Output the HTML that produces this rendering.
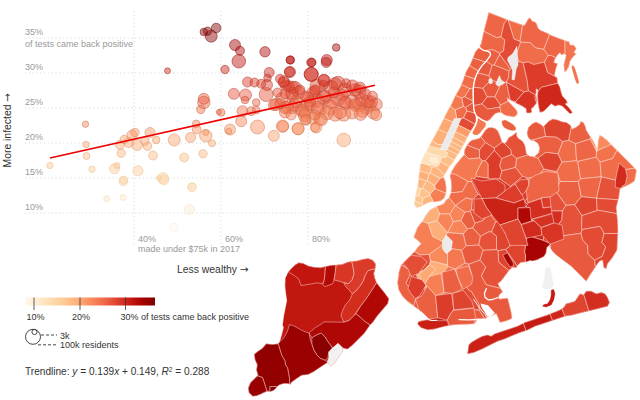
<!DOCTYPE html>
<html lang="en"><head><meta charset="utf-8"><title>NYC COVID-19 positive rate vs. income</title>
<style>html,body{margin:0;padding:0;background:#fff}body{width:640px;height:400px;overflow:hidden}</style></head>
<body>
<svg width="640" height="400" viewBox="0 0 640 400" style="display:block;font-family:'Liberation Sans','DejaVu Sans',sans-serif">
<defs><linearGradient id="ramp" x1="0" x2="1" y1="0" y2="0">
<stop offset="0%" stop-color="#fff7ec"/>
<stop offset="5%" stop-color="#fff1de"/>
<stop offset="10%" stop-color="#feebcf"/>
<stop offset="15%" stop-color="#fee4bf"/>
<stop offset="20%" stop-color="#fddcaf"/>
<stop offset="25%" stop-color="#fdd3a1"/>
<stop offset="30%" stop-color="#fdca94"/>
<stop offset="35%" stop-color="#fdbe88"/>
<stop offset="40%" stop-color="#fdb07a"/>
<stop offset="45%" stop-color="#fc9f6b"/>
<stop offset="50%" stop-color="#fa8e5d"/>
<stop offset="55%" stop-color="#f67d53"/>
<stop offset="60%" stop-color="#f16c49"/>
<stop offset="65%" stop-color="#e9593e"/>
<stop offset="70%" stop-color="#e04530"/>
<stop offset="75%" stop-color="#d53121"/>
<stop offset="80%" stop-color="#c81d13"/>
<stop offset="85%" stop-color="#b90e09"/>
<stop offset="90%" stop-color="#a70403"/>
<stop offset="95%" stop-color="#940100"/>
<stop offset="100%" stop-color="#7f0000"/>
</linearGradient></defs>
<rect width="640" height="400" fill="#fff"/>
<g stroke="#dadada" stroke-width="1" stroke-dasharray="1.2,2.6" fill="none">
<line x1="25" x2="399" y1="213.0" y2="213.0"/>
<line x1="25" x2="399" y1="178.0" y2="178.0"/>
<line x1="25" x2="399" y1="143.0" y2="143.0"/>
<line x1="25" x2="399" y1="108.0" y2="108.0"/>
<line x1="25" x2="399" y1="73.0" y2="73.0"/>
<line x1="25" x2="399" y1="38.0" y2="38.0"/>
<line x1="134.0" x2="134.0" y1="11" y2="244"/>
<line x1="221.0" x2="221.0" y1="11" y2="244"/>
<line x1="308.0" x2="308.0" y1="11" y2="244"/>
</g>
<g fill="#999" font-size="9">
<text x="25" y="209.8">10%</text>
<text x="25" y="174.8">15%</text>
<text x="25" y="139.8">20%</text>
<text x="25" y="104.8">25%</text>
<text x="25" y="69.8">30%</text>
<text x="25" y="34.8">35%</text>
<text x="25" y="47.2">of tests came back positive</text>
<text x="138.0" y="241.5">40%</text>
<text x="225.0" y="241.5">60%</text>
<text x="312.0" y="241.5">80%</text>
<text x="138.0" y="251.5">made under $75k in 2017</text>
</g>
<g fill="#333" font-size="10.4">
<text x="177" y="273">Less wealthy <tspan font-family="'DejaVu Sans',sans-serif" font-size="10.5">→</tspan></text>
<text transform="translate(11,167.5) rotate(-90)">More infected <tspan font-family="'DejaVu Sans',sans-serif" font-size="10.5">→</tspan></text>
</g>
<g stroke-width="0.9">
<circle cx="330.0" cy="107.5" r="7.5" fill="#f16c49" fill-opacity="0.46" stroke="#c0563a" stroke-opacity="0.55"/>
<circle cx="317.0" cy="86.1" r="7.0" fill="#de422d" fill-opacity="0.46" stroke="#b13424" stroke-opacity="0.55"/>
<circle cx="331.1" cy="87.5" r="7.0" fill="#e0452f" fill-opacity="0.46" stroke="#b33725" stroke-opacity="0.55"/>
<circle cx="338.1" cy="83.3" r="7.0" fill="#db3c29" fill-opacity="0.46" stroke="#af3020" stroke-opacity="0.55"/>
<circle cx="345.1" cy="90.3" r="7.0" fill="#e34a33" fill-opacity="0.46" stroke="#b53b28" stroke-opacity="0.55"/>
<circle cx="359.2" cy="91.7" r="7.0" fill="#e44d35" fill-opacity="0.46" stroke="#b63d2a" stroke-opacity="0.55"/>
<circle cx="366.2" cy="107.2" r="7.0" fill="#f06b49" fill-opacity="0.46" stroke="#c0553a" stroke-opacity="0.55"/>
<circle cx="359.2" cy="104.4" r="7.0" fill="#ee6646" fill-opacity="0.46" stroke="#be5138" stroke-opacity="0.55"/>
<circle cx="352.2" cy="101.6" r="7.0" fill="#ec6143" fill-opacity="0.46" stroke="#bc4d35" stroke-opacity="0.55"/>
<circle cx="345.1" cy="103.0" r="7.0" fill="#ed6344" fill-opacity="0.46" stroke="#bd4f36" stroke-opacity="0.55"/>
<circle cx="338.1" cy="98.7" r="7.0" fill="#ea5b3f" fill-opacity="0.46" stroke="#bb4832" stroke-opacity="0.55"/>
<circle cx="331.1" cy="101.6" r="7.0" fill="#ec6143" fill-opacity="0.46" stroke="#bc4d35" stroke-opacity="0.55"/>
<circle cx="324.0" cy="97.3" r="7.0" fill="#e9593d" fill-opacity="0.46" stroke="#ba4730" stroke-opacity="0.55"/>
<circle cx="317.0" cy="100.1" r="7.0" fill="#eb5e41" fill-opacity="0.46" stroke="#bc4b34" stroke-opacity="0.55"/>
<circle cx="318.4" cy="110.0" r="7.0" fill="#f2704c" fill-opacity="0.46" stroke="#c1593c" stroke-opacity="0.55"/>
<circle cx="326.9" cy="112.8" r="7.0" fill="#f4754e" fill-opacity="0.46" stroke="#c35d3e" stroke-opacity="0.55"/>
<circle cx="335.3" cy="114.2" r="7.0" fill="#f57750" fill-opacity="0.46" stroke="#c45f40" stroke-opacity="0.55"/>
<circle cx="343.7" cy="114.2" r="7.0" fill="#f57750" fill-opacity="0.46" stroke="#c45f40" stroke-opacity="0.55"/>
<circle cx="311.2" cy="74.5" r="7.0" fill="#d12a1c" fill-opacity="0.46" stroke="#a72116" stroke-opacity="0.55"/>
<circle cx="266.2" cy="94.5" r="7.0" fill="#e65339" fill-opacity="0.46" stroke="#b8422d" stroke-opacity="0.55"/>
<circle cx="257.5" cy="127.0" r="7.0" fill="#fa8d5d" fill-opacity="0.46" stroke="#ce744c" stroke-opacity="0.55"/>
<circle cx="311.2" cy="74.2" r="7.0" fill="#d12a1c" fill-opacity="0.46" stroke="#a72116" stroke-opacity="0.55"/>
<circle cx="238.8" cy="61.2" r="6.8" fill="#be120c" fill-opacity="0.46" stroke="#980e09" stroke-opacity="0.55"/>
<circle cx="343.8" cy="140.0" r="6.8" fill="#fca46f" fill-opacity="0.46" stroke="#d78c5e" stroke-opacity="0.55"/>
<circle cx="362.0" cy="100.1" r="6.7" fill="#eb5e41" fill-opacity="0.46" stroke="#bc4b34" stroke-opacity="0.55"/>
<circle cx="295.0" cy="87.5" r="6.2" fill="#e0452f" fill-opacity="0.46" stroke="#b33725" stroke-opacity="0.55"/>
<circle cx="292.5" cy="95.0" r="6.2" fill="#e7543a" fill-opacity="0.46" stroke="#b8432e" stroke-opacity="0.55"/>
<circle cx="203.8" cy="102.5" r="6.2" fill="#ed6344" fill-opacity="0.46" stroke="#bd4f36" stroke-opacity="0.55"/>
<circle cx="292.5" cy="107.5" r="6.2" fill="#f16c49" fill-opacity="0.46" stroke="#c0563a" stroke-opacity="0.55"/>
<circle cx="302.5" cy="111.2" r="6.2" fill="#f3724d" fill-opacity="0.46" stroke="#c25b3d" stroke-opacity="0.55"/>
<circle cx="310.0" cy="105.0" r="6.2" fill="#ef6747" fill-opacity="0.46" stroke="#bf5238" stroke-opacity="0.55"/>
<circle cx="282.5" cy="126.2" r="6.2" fill="#fa8c5c" fill-opacity="0.46" stroke="#ce734b" stroke-opacity="0.55"/>
<circle cx="205.8" cy="135.8" r="6.2" fill="#fc9d69" fill-opacity="0.46" stroke="#d58458" stroke-opacity="0.55"/>
<circle cx="335.0" cy="83.8" r="6.2" fill="#dc3d29" fill-opacity="0.46" stroke="#b03020" stroke-opacity="0.55"/>
<circle cx="292.5" cy="87.5" r="6.2" fill="#e0452f" fill-opacity="0.46" stroke="#b33725" stroke-opacity="0.55"/>
<circle cx="298.8" cy="92.5" r="6.2" fill="#e54f37" fill-opacity="0.46" stroke="#b73f2c" stroke-opacity="0.55"/>
<circle cx="355.0" cy="90.0" r="6.2" fill="#e24a33" fill-opacity="0.46" stroke="#b43b28" stroke-opacity="0.55"/>
<circle cx="285.0" cy="107.5" r="6.2" fill="#f16c49" fill-opacity="0.46" stroke="#c0563a" stroke-opacity="0.55"/>
<circle cx="295.0" cy="105.0" r="6.2" fill="#ef6747" fill-opacity="0.46" stroke="#bf5238" stroke-opacity="0.55"/>
<circle cx="317.5" cy="107.5" r="6.2" fill="#f16c49" fill-opacity="0.46" stroke="#c0563a" stroke-opacity="0.55"/>
<circle cx="340.0" cy="112.5" r="6.2" fill="#f4744e" fill-opacity="0.46" stroke="#c35c3e" stroke-opacity="0.55"/>
<circle cx="355.0" cy="105.0" r="6.2" fill="#ef6747" fill-opacity="0.46" stroke="#bf5238" stroke-opacity="0.55"/>
<circle cx="362.5" cy="111.2" r="6.2" fill="#f3724d" fill-opacity="0.46" stroke="#c25b3d" stroke-opacity="0.55"/>
<circle cx="370.0" cy="105.0" r="6.2" fill="#ef6747" fill-opacity="0.46" stroke="#bf5238" stroke-opacity="0.55"/>
<circle cx="320.0" cy="118.8" r="6.2" fill="#f77f54" fill-opacity="0.46" stroke="#c76643" stroke-opacity="0.55"/>
<circle cx="324.0" cy="80.5" r="6.2" fill="#d83625" fill-opacity="0.46" stroke="#ac2b1d" stroke-opacity="0.55"/>
<circle cx="352.2" cy="86.1" r="6.2" fill="#de422d" fill-opacity="0.46" stroke="#b13424" stroke-opacity="0.55"/>
<circle cx="371.3" cy="102.1" r="6.2" fill="#ed6243" fill-opacity="0.46" stroke="#bd4e35" stroke-opacity="0.55"/>
<circle cx="376.1" cy="104.4" r="6.2" fill="#ee6646" fill-opacity="0.46" stroke="#be5138" stroke-opacity="0.55"/>
<circle cx="373.3" cy="112.8" r="6.2" fill="#f4754e" fill-opacity="0.46" stroke="#c35d3e" stroke-opacity="0.55"/>
<circle cx="352.2" cy="112.8" r="6.2" fill="#f4754e" fill-opacity="0.46" stroke="#c35d3e" stroke-opacity="0.55"/>
<circle cx="360.6" cy="114.2" r="6.2" fill="#f57750" fill-opacity="0.46" stroke="#c45f40" stroke-opacity="0.55"/>
<circle cx="367.6" cy="101.6" r="6.2" fill="#ec6143" fill-opacity="0.46" stroke="#bc4d35" stroke-opacity="0.55"/>
<circle cx="312.8" cy="93.1" r="6.2" fill="#e55037" fill-opacity="0.46" stroke="#b7402c" stroke-opacity="0.55"/>
<circle cx="307.2" cy="104.4" r="6.2" fill="#ee6646" fill-opacity="0.46" stroke="#be5138" stroke-opacity="0.55"/>
<circle cx="301.6" cy="110.0" r="6.2" fill="#f2704c" fill-opacity="0.46" stroke="#c1593c" stroke-opacity="0.55"/>
<circle cx="295.9" cy="101.6" r="6.2" fill="#ec6143" fill-opacity="0.46" stroke="#bc4d35" stroke-opacity="0.55"/>
<circle cx="291.7" cy="93.1" r="6.2" fill="#e55037" fill-opacity="0.46" stroke="#b7402c" stroke-opacity="0.55"/>
<circle cx="281.9" cy="98.7" r="6.2" fill="#ea5b3f" fill-opacity="0.46" stroke="#bb4832" stroke-opacity="0.55"/>
<circle cx="287.5" cy="107.2" r="6.2" fill="#f06b49" fill-opacity="0.46" stroke="#c0553a" stroke-opacity="0.55"/>
<circle cx="276.2" cy="104.4" r="6.2" fill="#ee6646" fill-opacity="0.46" stroke="#be5138" stroke-opacity="0.55"/>
<circle cx="304.4" cy="115.6" r="6.2" fill="#f57a51" fill-opacity="0.46" stroke="#c46140" stroke-opacity="0.55"/>
<circle cx="312.8" cy="118.4" r="6.2" fill="#f77f54" fill-opacity="0.46" stroke="#c76643" stroke-opacity="0.55"/>
<circle cx="321.2" cy="119.8" r="6.2" fill="#f78155" fill-opacity="0.46" stroke="#c86844" stroke-opacity="0.55"/>
<circle cx="211.2" cy="36.2" r="6.0" fill="#900000" fill-opacity="0.46" stroke="#730000" stroke-opacity="0.55"/>
<circle cx="245.5" cy="95.0" r="6.0" fill="#e7543a" fill-opacity="0.46" stroke="#b8432e" stroke-opacity="0.55"/>
<circle cx="298.2" cy="128.8" r="6.0" fill="#fa905f" fill-opacity="0.46" stroke="#cf774e" stroke-opacity="0.55"/>
<circle cx="174.2" cy="140.0" r="6.0" fill="#fca46f" fill-opacity="0.46" stroke="#d78c5e" stroke-opacity="0.55"/>
<circle cx="298.0" cy="128.8" r="6.0" fill="#fa905f" fill-opacity="0.46" stroke="#cf774e" stroke-opacity="0.55"/>
<circle cx="286.1" cy="86.1" r="5.6" fill="#de422d" fill-opacity="0.46" stroke="#b13424" stroke-opacity="0.55"/>
<circle cx="137.0" cy="145.0" r="5.5" fill="#fdac77" fill-opacity="0.46" stroke="#db9567" stroke-opacity="0.55"/>
<circle cx="235.0" cy="45.0" r="5.5" fill="#a10202" fill-opacity="0.46" stroke="#800101" stroke-opacity="0.55"/>
<circle cx="290.0" cy="72.0" r="5.5" fill="#ce2519" fill-opacity="0.46" stroke="#a41d14" stroke-opacity="0.55"/>
<circle cx="267.0" cy="85.0" r="5.5" fill="#dd402b" fill-opacity="0.46" stroke="#b03322" stroke-opacity="0.55"/>
<circle cx="283.8" cy="82.5" r="5.5" fill="#da3a28" fill-opacity="0.46" stroke="#ae2e20" stroke-opacity="0.55"/>
<circle cx="288.8" cy="86.2" r="5.5" fill="#de422d" fill-opacity="0.46" stroke="#b13424" stroke-opacity="0.55"/>
<circle cx="233.8" cy="93.8" r="5.5" fill="#e65138" fill-opacity="0.46" stroke="#b8402c" stroke-opacity="0.55"/>
<circle cx="315.0" cy="91.2" r="5.5" fill="#e34c35" fill-opacity="0.46" stroke="#b53c2a" stroke-opacity="0.55"/>
<circle cx="203.8" cy="98.8" r="5.5" fill="#ea5b3f" fill-opacity="0.46" stroke="#bb4832" stroke-opacity="0.55"/>
<circle cx="242.5" cy="111.2" r="5.5" fill="#f3724d" fill-opacity="0.46" stroke="#c25b3d" stroke-opacity="0.55"/>
<circle cx="273.8" cy="105.0" r="5.5" fill="#ef6747" fill-opacity="0.46" stroke="#bf5238" stroke-opacity="0.55"/>
<circle cx="285.0" cy="112.5" r="5.5" fill="#f4744e" fill-opacity="0.46" stroke="#c35c3e" stroke-opacity="0.55"/>
<circle cx="241.2" cy="121.2" r="5.5" fill="#f88357" fill-opacity="0.46" stroke="#c96a46" stroke-opacity="0.55"/>
<circle cx="230.0" cy="129.5" r="5.5" fill="#fb9260" fill-opacity="0.46" stroke="#d0794f" stroke-opacity="0.55"/>
<circle cx="273.8" cy="135.8" r="5.5" fill="#fc9d69" fill-opacity="0.46" stroke="#d58458" stroke-opacity="0.55"/>
<circle cx="163.0" cy="178.0" r="5.5" fill="#fdd4a2" fill-opacity="0.46" stroke="#edc798" stroke-opacity="0.55"/>
<circle cx="326.8" cy="60.0" r="5.5" fill="#bc100b" fill-opacity="0.46" stroke="#960c08" stroke-opacity="0.55"/>
<circle cx="323.8" cy="80.0" r="5.5" fill="#d83524" fill-opacity="0.46" stroke="#ac2a1c" stroke-opacity="0.55"/>
<circle cx="283.8" cy="81.2" r="5.5" fill="#d93826" fill-opacity="0.46" stroke="#ad2c1e" stroke-opacity="0.55"/>
<circle cx="333.8" cy="92.5" r="5.5" fill="#e54f37" fill-opacity="0.46" stroke="#b73f2c" stroke-opacity="0.55"/>
<circle cx="365.0" cy="93.8" r="5.5" fill="#e65138" fill-opacity="0.46" stroke="#b8402c" stroke-opacity="0.55"/>
<circle cx="360.0" cy="87.5" r="5.5" fill="#e0452f" fill-opacity="0.46" stroke="#b33725" stroke-opacity="0.55"/>
<circle cx="342.5" cy="95.0" r="5.5" fill="#e7543a" fill-opacity="0.46" stroke="#b8432e" stroke-opacity="0.55"/>
<circle cx="325.0" cy="96.2" r="5.5" fill="#e8563c" fill-opacity="0.46" stroke="#b94430" stroke-opacity="0.55"/>
<circle cx="307.5" cy="97.5" r="5.5" fill="#e9593e" fill-opacity="0.46" stroke="#ba4731" stroke-opacity="0.55"/>
<circle cx="305.0" cy="112.5" r="5.5" fill="#f4744e" fill-opacity="0.46" stroke="#c35c3e" stroke-opacity="0.55"/>
<circle cx="376.2" cy="115.0" r="5.5" fill="#f57950" fill-opacity="0.46" stroke="#c46040" stroke-opacity="0.55"/>
<circle cx="283.0" cy="126.2" r="5.5" fill="#fa8c5c" fill-opacity="0.46" stroke="#ce734b" stroke-opacity="0.55"/>
<circle cx="316.2" cy="127.5" r="5.5" fill="#fa8e5d" fill-opacity="0.46" stroke="#ce754c" stroke-opacity="0.55"/>
<circle cx="345.0" cy="102.5" r="5.5" fill="#ed6344" fill-opacity="0.46" stroke="#bd4f36" stroke-opacity="0.55"/>
<circle cx="310.0" cy="101.2" r="5.5" fill="#ec6042" fill-opacity="0.46" stroke="#bc4c34" stroke-opacity="0.55"/>
<circle cx="265.0" cy="51.8" r="5.2" fill="#ae0704" fill-opacity="0.46" stroke="#8b0503" stroke-opacity="0.55"/>
<circle cx="114.5" cy="168.8" r="5.0" fill="#fdcb96" fill-opacity="0.46" stroke="#e8ba89" stroke-opacity="0.55"/>
<circle cx="128.8" cy="142.5" r="5.0" fill="#fca873" fill-opacity="0.46" stroke="#d99063" stroke-opacity="0.55"/>
<circle cx="132.0" cy="135.0" r="5.0" fill="#fc9b67" fill-opacity="0.46" stroke="#d48256" stroke-opacity="0.55"/>
<circle cx="138.0" cy="170.8" r="5.0" fill="#fdcd98" fill-opacity="0.46" stroke="#e9bd8c" stroke-opacity="0.55"/>
<circle cx="150.0" cy="132.5" r="5.0" fill="#fb9764" fill-opacity="0.46" stroke="#d27e53" stroke-opacity="0.55"/>
<circle cx="269.2" cy="72.5" r="5.0" fill="#ce2619" fill-opacity="0.46" stroke="#a41e14" stroke-opacity="0.55"/>
<circle cx="247.5" cy="82.0" r="5.0" fill="#da3927" fill-opacity="0.46" stroke="#ae2d1f" stroke-opacity="0.55"/>
<circle cx="300.0" cy="90.0" r="5.0" fill="#e24a33" fill-opacity="0.46" stroke="#b43b28" stroke-opacity="0.55"/>
<circle cx="285.0" cy="93.8" r="5.0" fill="#e65138" fill-opacity="0.46" stroke="#b8402c" stroke-opacity="0.55"/>
<circle cx="305.0" cy="96.2" r="5.0" fill="#e8563c" fill-opacity="0.46" stroke="#b94430" stroke-opacity="0.55"/>
<circle cx="280.0" cy="103.8" r="5.0" fill="#ee6545" fill-opacity="0.46" stroke="#be5037" stroke-opacity="0.55"/>
<circle cx="315.0" cy="115.0" r="5.0" fill="#f57950" fill-opacity="0.46" stroke="#c46040" stroke-opacity="0.55"/>
<circle cx="306.2" cy="120.0" r="5.0" fill="#f78155" fill-opacity="0.46" stroke="#c86844" stroke-opacity="0.55"/>
<circle cx="190.5" cy="137.5" r="5.0" fill="#fca06b" fill-opacity="0.46" stroke="#d6885a" stroke-opacity="0.55"/>
<circle cx="326.2" cy="62.5" r="5.0" fill="#c0140d" fill-opacity="0.46" stroke="#99100a" stroke-opacity="0.55"/>
<circle cx="289.5" cy="71.8" r="5.0" fill="#cd2518" fill-opacity="0.46" stroke="#a41d13" stroke-opacity="0.55"/>
<circle cx="315.0" cy="90.0" r="5.0" fill="#e24a33" fill-opacity="0.46" stroke="#b43b28" stroke-opacity="0.55"/>
<circle cx="372.5" cy="96.2" r="5.0" fill="#e8563c" fill-opacity="0.46" stroke="#b94430" stroke-opacity="0.55"/>
<circle cx="305.0" cy="120.0" r="5.0" fill="#f78155" fill-opacity="0.46" stroke="#c86844" stroke-opacity="0.55"/>
<circle cx="291.2" cy="115.0" r="5.0" fill="#f57950" fill-opacity="0.46" stroke="#c46040" stroke-opacity="0.55"/>
<circle cx="163.8" cy="180.0" r="5.0" fill="#fdd6a5" fill-opacity="0.46" stroke="#edc99b" stroke-opacity="0.55"/>
<circle cx="189.5" cy="209.5" r="5.0" fill="#feecd3" fill-opacity="0.46" stroke="#eeddc6" stroke-opacity="0.55"/>
<circle cx="216.2" cy="28.0" r="4.8" fill="#7f0000" fill-opacity="0.46" stroke="#650000" stroke-opacity="0.55"/>
<circle cx="120.0" cy="145.0" r="4.5" fill="#fdac77" fill-opacity="0.46" stroke="#db9567" stroke-opacity="0.55"/>
<circle cx="153.0" cy="155.5" r="4.5" fill="#fdbc86" fill-opacity="0.46" stroke="#e1a777" stroke-opacity="0.55"/>
<circle cx="240.0" cy="50.8" r="4.5" fill="#ac0604" fill-opacity="0.46" stroke="#890403" stroke-opacity="0.55"/>
<circle cx="254.5" cy="82.5" r="4.5" fill="#da3a28" fill-opacity="0.46" stroke="#ae2e20" stroke-opacity="0.55"/>
<circle cx="261.2" cy="83.8" r="4.5" fill="#dc3d29" fill-opacity="0.46" stroke="#b03020" stroke-opacity="0.55"/>
<circle cx="280.0" cy="78.8" r="4.5" fill="#d63322" fill-opacity="0.46" stroke="#ab281b" stroke-opacity="0.55"/>
<circle cx="277.5" cy="92.5" r="4.5" fill="#e54f37" fill-opacity="0.46" stroke="#b73f2c" stroke-opacity="0.55"/>
<circle cx="251.2" cy="111.2" r="4.5" fill="#f3724d" fill-opacity="0.46" stroke="#c25b3d" stroke-opacity="0.55"/>
<circle cx="196.8" cy="129.5" r="4.5" fill="#fb9260" fill-opacity="0.46" stroke="#d0794f" stroke-opacity="0.55"/>
<circle cx="315.0" cy="127.5" r="4.5" fill="#fa8e5d" fill-opacity="0.46" stroke="#ce754c" stroke-opacity="0.55"/>
<circle cx="184.2" cy="157.5" r="4.5" fill="#fdbf88" fill-opacity="0.46" stroke="#e2aa79" stroke-opacity="0.55"/>
<circle cx="311.2" cy="62.5" r="4.5" fill="#c0140d" fill-opacity="0.46" stroke="#99100a" stroke-opacity="0.55"/>
<circle cx="346.2" cy="83.2" r="4.5" fill="#db3c29" fill-opacity="0.46" stroke="#af3020" stroke-opacity="0.55"/>
<circle cx="323.8" cy="85.0" r="4.5" fill="#dd402b" fill-opacity="0.46" stroke="#b03322" stroke-opacity="0.55"/>
<circle cx="123.2" cy="181.2" r="4.5" fill="#fdd7a7" fill-opacity="0.46" stroke="#edca9c" stroke-opacity="0.55"/>
<circle cx="121.2" cy="153.2" r="4.2" fill="#fdb983" fill-opacity="0.46" stroke="#dfa373" stroke-opacity="0.55"/>
<circle cx="124.2" cy="139.5" r="4.2" fill="#fca36e" fill-opacity="0.46" stroke="#d78b5d" stroke-opacity="0.55"/>
<circle cx="135.0" cy="132.5" r="4.2" fill="#fb9764" fill-opacity="0.46" stroke="#d27e53" stroke-opacity="0.55"/>
<circle cx="145.0" cy="141.2" r="4.2" fill="#fca671" fill-opacity="0.46" stroke="#d88e60" stroke-opacity="0.55"/>
<circle cx="147.5" cy="146.2" r="4.2" fill="#fdae78" fill-opacity="0.46" stroke="#db9768" stroke-opacity="0.55"/>
<circle cx="207.5" cy="31.2" r="4.2" fill="#850000" fill-opacity="0.46" stroke="#6a0000" stroke-opacity="0.55"/>
<circle cx="225.0" cy="69.5" r="4.2" fill="#ca2015" fill-opacity="0.46" stroke="#a11910" stroke-opacity="0.55"/>
<circle cx="290.5" cy="60.0" r="4.2" fill="#bc100b" fill-opacity="0.46" stroke="#960c08" stroke-opacity="0.55"/>
<circle cx="311.8" cy="62.5" r="4.2" fill="#c0140d" fill-opacity="0.46" stroke="#99100a" stroke-opacity="0.55"/>
<circle cx="200.8" cy="109.5" r="4.2" fill="#f26f4b" fill-opacity="0.46" stroke="#c1583c" stroke-opacity="0.55"/>
<circle cx="203.0" cy="153.8" r="4.2" fill="#fdba83" fill-opacity="0.46" stroke="#e0a474" stroke-opacity="0.55"/>
<circle cx="192.0" cy="186.8" r="4.2" fill="#fddcaf" fill-opacity="0.46" stroke="#edcea4" stroke-opacity="0.55"/>
<circle cx="192.0" cy="187.5" r="4.2" fill="#fddcb0" fill-opacity="0.46" stroke="#edcea5" stroke-opacity="0.55"/>
<circle cx="173.8" cy="227.5" r="4.2" fill="#fff7ec" fill-opacity="0.46" stroke="#efe8dd" stroke-opacity="0.55"/>
<circle cx="123.5" cy="180.0" r="4.0" fill="#fdd6a5" fill-opacity="0.46" stroke="#edc99b" stroke-opacity="0.55"/>
<circle cx="290.0" cy="60.0" r="4.0" fill="#bc100b" fill-opacity="0.46" stroke="#960c08" stroke-opacity="0.55"/>
<circle cx="156.2" cy="140.0" r="3.8" fill="#fca46f" fill-opacity="0.46" stroke="#d78c5e" stroke-opacity="0.55"/>
<circle cx="203.8" cy="32.0" r="3.8" fill="#870000" fill-opacity="0.46" stroke="#6c0000" stroke-opacity="0.55"/>
<circle cx="267.5" cy="78.0" r="3.8" fill="#d53121" fill-opacity="0.46" stroke="#aa271a" stroke-opacity="0.55"/>
<circle cx="221.2" cy="112.5" r="3.8" fill="#f4744e" fill-opacity="0.46" stroke="#c35c3e" stroke-opacity="0.55"/>
<circle cx="256.2" cy="110.0" r="3.8" fill="#f2704c" fill-opacity="0.46" stroke="#c1593c" stroke-opacity="0.55"/>
<circle cx="256.2" cy="102.5" r="3.8" fill="#ed6344" fill-opacity="0.46" stroke="#bd4f36" stroke-opacity="0.55"/>
<circle cx="245.0" cy="100.0" r="3.8" fill="#eb5e41" fill-opacity="0.46" stroke="#bc4b34" stroke-opacity="0.55"/>
<circle cx="196.2" cy="123.8" r="3.8" fill="#f98859" fill-opacity="0.46" stroke="#cc6f48" stroke-opacity="0.55"/>
<circle cx="336.2" cy="47.5" r="3.8" fill="#a60402" fill-opacity="0.46" stroke="#840301" stroke-opacity="0.55"/>
<circle cx="86.5" cy="156.0" r="3.5" fill="#fdbd86" fill-opacity="0.46" stroke="#e1a877" stroke-opacity="0.55"/>
<circle cx="212.0" cy="143.2" r="3.5" fill="#fca974" fill-opacity="0.46" stroke="#d99164" stroke-opacity="0.55"/>
<circle cx="50.0" cy="165.5" r="3.2" fill="#fdc892" fill-opacity="0.46" stroke="#e6b685" stroke-opacity="0.55"/>
<circle cx="85.5" cy="124.2" r="3.2" fill="#f9885a" fill-opacity="0.46" stroke="#cc6f49" stroke-opacity="0.55"/>
<circle cx="86.0" cy="144.5" r="3.2" fill="#fdab76" fill-opacity="0.46" stroke="#da9466" stroke-opacity="0.55"/>
<circle cx="92.0" cy="169.2" r="3.2" fill="#fdcc97" fill-opacity="0.46" stroke="#e8bb8b" stroke-opacity="0.55"/>
<circle cx="117.0" cy="165.5" r="3.0" fill="#fdc892" fill-opacity="0.46" stroke="#e6b685" stroke-opacity="0.55"/>
<circle cx="167.5" cy="70.8" r="3.0" fill="#cc2317" fill-opacity="0.46" stroke="#a31c12" stroke-opacity="0.55"/>
<circle cx="228.8" cy="131.2" r="3.0" fill="#fb9562" fill-opacity="0.46" stroke="#d17c51" stroke-opacity="0.55"/>
<circle cx="205.8" cy="132.5" r="3.0" fill="#fb9764" fill-opacity="0.46" stroke="#d27e53" stroke-opacity="0.55"/>
<circle cx="106.8" cy="198.8" r="3.0" fill="#fee5c2" fill-opacity="0.46" stroke="#eed7b6" stroke-opacity="0.55"/>
<circle cx="123.0" cy="197.5" r="3.0" fill="#fee4c0" fill-opacity="0.46" stroke="#eed6b4" stroke-opacity="0.55"/>
<circle cx="158.8" cy="178.0" r="2.5" fill="#fdd4a2" fill-opacity="0.46" stroke="#edc798" stroke-opacity="0.55"/>
<circle cx="218.8" cy="112.0" r="2.5" fill="#f3744e" fill-opacity="0.46" stroke="#c25c3e" stroke-opacity="0.55"/>
</g>
<line x1="50" y1="158" x2="375" y2="85.3" stroke="#e00" stroke-width="1.6"/>
<rect x="25" y="297.5" width="130" height="8" fill="url(#ramp)"/>
<g stroke="#333" stroke-width="0.8">
<line x1="34" x2="34" y1="297.5" y2="310"/>
<line x1="80" x2="80" y1="297.5" y2="310"/>
<line x1="125.5" x2="125.5" y1="297.5" y2="310"/>
</g>
<g fill="#333" font-size="9">
<text x="26.5" y="319.5">10%</text>
<text x="72" y="319.5">20%</text>
<text x="120.5" y="319.5">30% of tests came back positive</text>
<text x="60" y="338.5">3k</text>
<text x="60" y="348.2">100k residents</text>
</g>
<g fill="none" stroke="#333" stroke-width="0.9">
<circle cx="33" cy="336.8" r="7.5"/><circle cx="34.5" cy="332" r="2.6"/>
<path d="M41 335H57M38 344.8H57" stroke-dasharray="3,2"/>
</g>
<text x="25" y="375" font-size="10.1" fill="#333">Trendline: <tspan font-style="italic">y</tspan> = 0.139<tspan font-style="italic">x</tspan> + 0.149, <tspan font-style="italic">R</tspan><tspan font-size="6.5" dy="-3.5">2</tspan><tspan dy="3.5"> = 0.288</tspan></text>
<g id="map" stroke="#fff" stroke-opacity="0.7" stroke-width="0.6" stroke-linejoin="round">
<path d="M288.4,272.1L285.6,278.1L285.2,285.6L286.0,293.1L287.1,300.6L285.6,308.1L284.1,315.6L282.8,325.0L283.8,327.5L281.9,335.0L280.0,341.6L278.3,343.8L272.3,344.5L266.3,343.8L262.5,348.3L258.0,351.3L254.3,354.3L255.0,359.5L257.3,364.8L256.5,370.0L258.0,375.3L254.3,379.0L250.5,382.8L248.3,388.0L249.0,392.5L252.8,396.3L256.5,395.8L260.3,394.3L264.0,392.5L267.8,391.0L270.0,391.8L273.8,390.3L277.5,386.5L279.0,385.0L283.5,383.5L288.0,383.5L290.3,384.3L291.8,382.0L297.0,378.3L301.5,375.3L308.1,374.4L313.8,371.6L319.4,367.8L325.0,364.1L327.8,362.2L330.6,365.9L334.4,363.1L338.1,357.5L341.9,352.8L342.8,348.1L347.5,349.1L352.2,345.3L358.8,338.8L364.4,333.1L370.0,325.0L372.8,322.2L377.5,315.6L383.1,309.1L387.8,303.4L388.8,298.8L384.1,292.2L379.4,286.6L376.6,282.8L374.7,278.1L373.8,273.4L375.2,268.8L375.6,264.1L372.8,260.3L368.1,258.4L362.5,259.4L356.9,260.9L351.2,261.6L347.5,262.2L341.9,264.6L336.2,265.0L330.6,265.4L325.9,266.5L320.3,267.8L313.8,267.2L308.1,265.9L303.4,263.5L298.8,262.8L295.0,265.0L291.2,268.8Z" fill="#c2170f" stroke="#c2170f" stroke-width="0.4"/>
<path d="M294.1,275.3L298.8,279.1L301.0,285.6L306.2,284.7L311.9,283.8L317.5,282.8L322.2,283.8L324.1,280.9L325.0,274.4L325.4,266.6L320.3,267.8L313.8,267.2L308.1,265.9L303.4,263.5L298.8,262.8L295.0,265.0L291.2,268.8L288.4,272.1Z" fill="#c1150e"/>
<path d="M325.0,274.4L324.1,280.9L322.8,284.7L325.0,286.6L327.8,285.6L332.5,283.8L334.0,280.0L335.3,272.5L336.1,265.0L330.6,265.4L325.9,266.5L325.4,266.6Z" fill="#b30a06"/>
<path d="M335.3,272.5L334.0,280.0L338.1,280.9L343.8,282.8L348.4,283.8L352.2,280.0L354.1,273.4L353.1,266.9L351.8,261.6L351.2,261.6L347.5,262.2L341.9,264.6L336.2,265.0L336.1,265.0Z" fill="#d83725"/>
<path d="M353.1,266.9L354.1,273.4L352.2,280.0L348.4,283.8L343.8,282.8L345.6,286.6L349.4,290.3L352.2,294.1L355.9,291.2L359.7,286.6L363.4,280.9L365.3,275.3L368.1,270.6L371.9,269.7L375.2,269.0L375.2,268.8L375.6,264.1L372.8,260.3L368.1,258.4L362.5,259.4L356.9,260.9L351.8,261.6Z" fill="#da3a27"/>
<path d="M371.9,269.7L368.1,270.6L365.3,275.3L363.4,280.9L359.7,286.6L355.9,291.2L352.2,294.1L350.3,298.8L348.4,301.6L345.6,304.4L342.8,310.0L340.9,315.6L343.8,322.2L349.4,320.3L353.1,316.6L355.9,312.8L360.6,306.2L366.2,298.8L371.9,290.3L376.6,282.8L374.7,278.1L373.8,273.4L375.2,268.8L375.3,268.6Z" fill="#d32d1e"/>
<path d="M371.9,290.3L366.2,298.8L360.6,306.2L355.9,313.8L360.6,317.5L364.4,321.2L370.0,325.0L372.8,322.2L377.5,315.6L383.1,309.1L387.8,303.4L388.8,298.8L384.1,292.2L379.4,286.6L376.6,282.8Z" fill="#b10805"/>
<path d="M324.1,321.9L320.3,324.7L315.6,327.5L311.9,330.3L309.1,333.1L311.9,337.8L316.6,335.0L321.2,333.1L325.0,336.9L327.8,341.6L330.6,345.3L332.5,348.1L338.1,343.4L342.8,348.1L347.5,349.1L352.2,345.3L358.8,338.8L364.4,333.1L370.0,325.0L364.4,321.2L360.6,317.5L355.9,313.8L353.1,316.6L349.4,320.3L343.8,322.2Z" fill="#af0705"/>
<path d="M311.9,344.4L313.8,350.0L316.6,354.7L320.3,358.4L325.0,360.3L327.8,357.5L328.8,351.9L332.5,348.1L330.6,345.3L327.8,341.6L325.0,336.9L321.2,333.1L316.6,335.0L311.9,337.8Z" fill="#8b0000"/>
<path d="M332.5,348.1L328.8,351.9L328.8,357.5L326.9,362.8L326.9,362.8L327.8,362.2L330.6,365.9L334.4,363.1L338.1,357.5L341.9,352.8L342.8,348.1L338.1,343.4Z" fill="#f1f1f1"/>
<path d="M280.0,350.0L281.9,355.6L284.7,360.3L285.6,365.0L287.5,367.8L288.4,372.5L289.4,378.1L289.7,384.1L290.3,384.3L291.8,382.0L297.0,378.3L301.5,375.3L308.1,374.4L313.8,371.6L319.4,367.8L325.0,364.1L327.8,362.2L325.0,360.3L320.3,358.4L316.6,354.7L313.8,350.0L311.9,344.4L310.0,338.8L309.1,333.1L306.2,332.2L301.6,330.3L296.9,327.5L293.1,325.6L289.4,324.7L287.5,331.2L283.8,337.8L280.0,341.6L278.3,343.8L278.2,343.8Z" fill="#9c0101"/>
<path d="M258.0,376.0L262.5,377.5L264.0,382.0L265.5,386.5L266.9,391.4L267.8,391.0L270.0,391.8L270.0,386.5L277.5,386.5L279.0,385.0L283.5,383.5L288.0,383.5L289.7,384.1L289.4,378.1L288.4,372.5L287.5,367.8L285.6,365.0L284.7,360.3L281.9,355.6L280.0,350.0L278.2,343.8L272.3,344.5L266.3,343.8L262.5,348.3L258.0,351.3L254.3,354.3L255.0,359.5L257.3,364.8L256.5,370.0L258.0,375.3L257.8,375.5Z" fill="#930000"/>
<path d="M256.5,376.8L254.3,379.0L250.5,382.8L248.3,388.0L249.0,392.5L252.8,396.3L256.5,395.8L260.3,394.3L264.0,392.5L266.9,391.4L265.5,386.5L264.0,382.0L262.5,377.5L258.0,376.0Z" fill="#990101"/>
<path d="M270.0,391.8L273.8,390.3L277.5,386.5L270.0,386.5Z" fill="#880000"/>
<path d="M488.8,12.5L485.5,25.0L483.0,35.0L481.2,43.8L479.5,46.5L480.5,48.5L483.5,50.3L487.5,51.2L490.0,52.5L490.6,55.0L488.0,58.8L485.0,62.5L482.0,65.6L479.4,69.4L476.9,73.8L475.0,78.8L473.8,83.8L473.1,90.0L473.3,100.0L473.7,108.8L475.0,113.5L477.0,116.5L478.1,117.0L482.5,119.8L486.9,121.2L490.0,119.4L492.5,116.2L495.0,113.8L498.1,112.5L501.2,112.5L503.8,114.4L506.2,115.6L510.0,116.2L513.8,116.9L516.2,115.6L517.5,113.0L516.7,110.6L514.8,108.2L512.6,105.9L510.2,103.5L507.6,100.4L507.4,97.5L508.8,99.4L512.5,101.2L517.5,103.8L522.5,106.2L526.2,108.8L526.2,111.9L527.5,113.0L530.0,113.0L531.9,111.9L531.2,108.8L533.0,107.5L535.0,105.0L536.9,102.5L536.0,95.0L536.2,88.8L538.0,90.0L537.5,96.2L538.0,102.5L538.8,107.5L540.0,112.5L543.8,111.2L547.5,107.5L551.2,103.8L555.0,106.2L558.8,105.0L562.5,106.2L566.2,110.0L570.0,113.8L572.5,112.5L568.8,107.5L565.0,103.8L567.5,103.0L566.2,100.0L562.5,96.2L561.2,92.5L560.0,87.5L557.5,82.5L557.0,77.5L554.5,76.2L555.0,72.5L556.2,67.5L557.5,63.8L553.8,62.5L555.0,58.8L557.5,55.0L560.0,52.5L561.2,55.0L563.8,53.8L566.2,55.0L565.0,60.0L563.8,65.0L564.5,71.2L566.2,71.2L568.8,66.2L570.0,61.2L572.5,57.5L576.2,53.8L573.8,52.5L576.2,48.8L573.8,45.0L570.0,45.0L568.8,41.2L567.5,41.6L560.0,38.8L552.5,35.9L546.9,33.1L540.3,30.3L537.9,27.9L536.6,23.8L534.7,21.9L531.9,20.9L530.0,17.8L528.1,19.1L526.2,22.8L524.4,25.6L518.8,23.8L505.6,19.1Z" fill="#ec6042" stroke="#ec6042" stroke-width="0.4"/>
<path d="M507.4,19.7L505.6,19.1L488.8,12.5L485.5,25.0L485.0,27.0L483.9,31.4L496.4,37.7L501.0,36.8L504.3,23.1Z" fill="#ef6646"/>
<path d="M483.0,35.0L481.2,43.8L479.5,46.5L480.5,48.5L483.5,50.3L485.3,50.7L492.5,49.6L499.7,53.3L503.7,50.9L504.8,39.8L501.0,36.8L496.4,37.7L483.9,31.4Z" fill="#ef6646"/>
<path d="M522.6,25.0L518.8,23.8L508.0,19.9L513.9,39.1L520.1,41.4Z" fill="#f16d4a"/>
<path d="M507.4,19.7L504.3,23.1L501.0,36.8L504.8,39.8L503.7,50.9L499.7,53.3L499.6,54.3L510.4,69.1L518.7,61.5L516.5,54.1L520.6,42.1L520.1,41.4L513.9,39.1L508.0,19.9Z" fill="#e34b34"/>
<path d="M530.4,42.7L535.3,47.9L543.8,49.4L549.6,34.5L546.9,33.1L540.3,30.3L538.6,28.6L537.9,27.9L536.6,23.8L534.7,21.9L531.9,20.9L530.0,17.8L528.1,19.1L526.2,22.8L524.4,25.6L522.6,25.0L520.1,41.4L520.6,42.1Z" fill="#ef6646"/>
<path d="M518.7,61.5L523.2,62.8L528.2,62.0L533.7,64.6L544.4,62.1L548.3,55.4L543.8,49.4L535.3,47.9L530.4,42.7L520.6,42.1L516.5,54.1Z" fill="#f16d4a"/>
<path d="M548.3,55.4L550.8,55.5L555.7,57.7L557.5,55.0L560.0,52.5L561.2,55.0L563.8,53.8L565.0,54.4L565.0,40.6L562.2,39.6L560.0,38.8L552.5,35.9L549.6,34.5L543.8,49.4Z" fill="#ef6646"/>
<path d="M576.2,53.8L573.8,52.5L576.2,48.8L573.8,45.0L570.0,45.0L568.8,41.2L567.5,41.6L565.0,40.6L565.0,54.4L566.2,55.0L566.1,55.4L565.0,60.0L563.8,65.0L564.5,71.2L566.2,71.2L568.8,66.2L570.0,61.2L572.5,57.5L572.9,57.1Z" fill="#f3734d"/>
<path d="M509.2,71.1L510.4,69.1L499.6,54.3L494.0,65.0Z" fill="#ec6042"/>
<path d="M499.6,54.3L499.7,53.3L492.5,49.6L485.3,50.7L487.5,51.2L490.0,52.5L490.6,55.0L488.0,58.8L486.2,61.0L492.2,65.5L494.0,65.0Z" fill="#ec6042"/>
<path d="M492.2,65.5L486.2,61.0L485.0,62.5L482.0,65.6L479.4,69.4L477.4,72.9L488.9,75.8Z" fill="#e9593e"/>
<path d="M506.3,82.2L508.6,77.8L509.2,71.1L494.0,65.0L492.2,65.5L488.9,75.8L491.2,80.1L501.0,83.6Z" fill="#e9593e"/>
<path d="M523.2,62.8L518.7,61.5L510.4,69.1L509.2,71.1L508.6,77.8L506.3,82.2L506.4,82.3L523.9,92.1L528.5,90.9L527.1,79.7L527.0,79.6Z" fill="#e65239"/>
<path d="M488.9,75.8L477.4,72.9L476.9,73.8L475.0,78.8L473.8,83.8L473.4,87.2L482.8,88.4L491.2,80.1Z" fill="#e9593e"/>
<path d="M494.9,97.0L501.0,83.6L491.2,80.1L482.8,88.4L487.1,97.0Z" fill="#e9593e"/>
<path d="M487.1,97.0L482.8,88.4L473.4,87.2L473.1,90.0L473.3,100.0L473.6,105.7L481.9,103.9Z" fill="#e34b34"/>
<path d="M500.3,105.0L508.3,101.2L507.6,100.4L507.4,97.5L508.8,99.4L510.3,100.1L506.4,82.3L506.3,82.2L501.0,83.6L494.9,97.0Z" fill="#ec6042"/>
<path d="M499.8,107.2L500.3,105.0L494.9,97.0L487.1,97.0L481.9,103.9L487.7,109.1Z" fill="#e34b34"/>
<path d="M473.6,105.7L473.7,108.8L475.0,113.5L477.0,116.5L478.1,117.0L482.5,119.8L486.9,121.2L487.0,121.2L490.0,119.4L492.5,116.2L495.0,113.8L498.1,112.5L501.1,112.5L499.8,107.2L487.7,109.1L481.9,103.9Z" fill="#e9593e"/>
<path d="M510.6,100.3L512.5,101.2L515.9,103.0L515.4,102.0ZM501.2,112.5L503.8,114.4L506.2,115.6L506.5,115.6L510.0,116.2L513.8,116.9L516.2,115.6L517.5,113.0L516.7,110.6L514.8,108.2L514.0,107.3L512.6,105.9L510.2,103.5L508.3,101.2L500.3,105.0L499.8,107.2L501.1,112.5Z" fill="#f16d4a"/>
<path d="M523.9,92.1L506.4,82.3L510.3,100.1L510.6,100.3L515.4,102.0Z" fill="#dc3c29"/>
<path d="M535.4,94.7L528.5,90.9L523.9,92.1L515.4,102.0L515.9,103.0L517.5,103.8L522.5,106.2L523.9,107.2L526.2,108.8L526.2,111.9L527.5,113.0L530.0,113.0L531.9,111.9L531.2,108.8L533.0,107.5L535.0,105.0L536.6,102.9L535.1,98.2Z" fill="#d83524"/>
<path d="M544.4,62.1L533.7,64.6L528.2,62.0L523.2,62.8L527.0,79.6L527.1,79.7L528.5,90.9L535.4,94.7L535.7,94.6L536.0,94.1L536.2,88.8L538.0,90.0L537.9,91.7L541.3,87.3L557.8,83.2L557.5,82.5L557.0,77.5L554.5,76.2L554.5,76.1L547.7,72.4Z" fill="#dc3c29"/>
<path d="M554.5,76.1L555.0,72.5L556.2,67.5L557.5,63.8L553.8,62.5L555.0,58.8L555.7,57.7L550.8,55.5L548.3,55.4L544.4,62.1L547.7,72.4Z" fill="#e9593e"/>
<path d="M557.8,83.2L541.3,87.3L537.9,91.7L537.6,95.1L537.5,96.2L538.0,102.5L538.8,107.5L540.0,112.5L543.8,111.2L547.5,107.5L550.8,104.2L551.2,103.8L555.0,106.2L556.3,105.8L558.8,105.0L562.5,106.2L566.2,110.0L570.0,113.8L572.5,112.5L568.8,107.5L565.0,103.8L567.5,103.0L566.2,100.0L562.5,96.2L562.2,95.5L561.2,92.5L560.2,88.4L560.0,87.5ZM536.0,94.1L535.7,94.6L535.4,94.7L535.1,98.2L536.6,102.9L536.9,102.5L536.0,95.0L536.0,94.6Z" fill="#cf271a"/>
<path d="M515.6,48.8L512.5,53.8L508.0,57.5L507.5,60.6L510.0,65.0L512.5,70.0L511.9,79.4L514.4,80.0L516.2,68.8L518.0,65.0L516.9,46.2Z" fill="#ebebeb"/>
<path d="M497.5,80.0L495.6,83.8L498.0,86.2L502.5,84.4L505.0,82.5L501.2,80.0L499.4,75.6Z" fill="#ebebeb"/>
<path d="M488.6,82.0L490.0,84.0L492.5,83.0L492.0,78.8L489.0,79.0Z" fill="#ebebeb"/>
<path d="M572.5,65.0L571.8,67.5L573.2,72.5L575.0,78.8L577.0,83.8L578.8,83.0L578.0,78.8L576.2,72.5L574.5,67.5Z" fill="#f3734d" stroke="#f3734d" stroke-width="0.4"/>
<path d="M501.9,121.2L502.5,125.0L504.4,127.5L508.0,129.4L512.5,130.6L515.6,130.0L515.6,127.5L513.0,124.4L508.8,121.9L505.0,120.0Z" fill="#ec6042" stroke="#ec6042" stroke-width="0.4"/>
<path d="M477.7,117.8L477.4,121.0L476.0,125.0L473.6,129.0L472.2,132.5L473.8,134.5L477.0,135.0L480.0,133.0L482.0,130.0L484.5,127.5L486.0,124.3L484.5,121.8L481.0,119.3Z" fill="#f57950" stroke="#f57950" stroke-width="0.4"/>
<path d="M479.2,47.8L477.0,49.5L475.0,52.5L472.5,58.8L470.0,65.0L466.2,71.2L464.4,76.2L463.2,80.0L460.2,87.5L455.2,96.0L451.3,104.4L447.0,112.0L443.3,119.5L439.5,127.0L436.0,133.5L432.5,140.0L429.8,145.0L427.3,150.0L424.0,155.5L422.0,160.0L420.5,165.0L419.6,171.0L418.8,177.5L418.0,185.0L416.2,192.5L415.3,198.0L414.4,203.8L416.2,207.5L421.0,206.6L425.6,203.8L430.3,201.9L435.0,201.9L440.6,201.0L444.4,198.0L446.2,192.5L446.2,186.9L445.3,181.2L443.4,176.6L446.2,171.9L449.0,167.2L452.8,162.5L455.6,157.8L458.8,153.0L460.8,150.0L463.3,145.0L466.0,140.0L468.0,136.0L470.8,131.0L474.0,126.0L476.2,121.0L475.8,116.0L475.0,113.5L473.7,108.8L473.3,100.0L473.1,90.0L473.8,83.8L475.0,78.8L476.9,73.8L479.4,69.4L482.0,65.6L485.0,62.5L488.0,58.8L490.6,55.0L490.0,52.5L487.5,51.2L483.5,50.3L480.5,48.5Z" fill="#fdb47e" stroke="#fdb47e" stroke-width="0.4"/>
<path d="M485.3,62.1L488.0,58.8L490.6,55.0L490.0,52.5L487.5,51.2L483.5,50.3L480.5,48.5L479.2,47.8L477.0,49.5L475.0,52.5L472.8,57.9Z" fill="#ec6042"/>
<path d="M472.8,57.9L472.5,58.8L470.0,65.0L469.6,65.6L478.4,71.1L479.4,69.4L482.0,65.6L485.0,62.5L485.3,62.1Z" fill="#ec6042"/>
<path d="M469.6,65.6L466.2,71.2L464.7,75.4L474.9,79.0L475.0,78.8L476.9,73.8L478.4,71.1Z" fill="#ef6646"/>
<path d="M473.3,88.1L473.8,83.8L474.9,79.0L464.7,75.4L464.4,76.2L463.2,80.0L461.4,84.6L469.9,88.8Z" fill="#f16d4a"/>
<path d="M469.9,88.8L461.4,84.6L460.2,87.5L455.5,95.6L461.7,98.0L464.6,96.8Z" fill="#f3734d"/>
<path d="M473.4,101.2L473.3,100.0L473.1,90.0L473.3,88.1L469.9,88.8L464.6,96.8Z" fill="#ec6042"/>
<path d="M461.7,98.0L463.5,106.4L465.6,107.6L473.4,102.4L473.4,101.2L464.6,96.8Z" fill="#e9593e"/>
<path d="M455.5,95.6L455.2,96.0L451.3,104.4L450.3,106.1L455.2,110.0L463.5,106.4L461.7,98.0Z" fill="#f57950"/>
<path d="M465.6,107.6L466.9,111.1L474.9,113.1L473.7,108.8L473.4,102.4Z" fill="#e9593e"/>
<path d="M463.5,117.9L466.9,111.1L465.6,107.6L463.5,106.4L455.2,110.0L456.9,119.8Z" fill="#f16d4a"/>
<path d="M456.9,119.8L455.2,110.0L450.3,106.1L447.0,112.0L443.8,118.5L455.0,122.7Z" fill="#fb9764"/>
<path d="M466.9,111.1L463.5,117.9L474.8,124.2L476.2,121.0L475.8,116.0L475.0,113.5L474.9,113.1Z" fill="#e65239"/>
<path d="M470.7,131.2L470.8,131.0L474.0,126.0L474.8,124.2L463.5,117.9L456.9,119.8L455.0,122.7L455.1,123.4Z" fill="#e34b34"/>
<path d="M455.0,122.7L443.8,118.5L443.3,119.5L439.5,127.0L438.2,129.3L449.5,134.5L452.9,130.4L455.1,123.4Z" fill="#fca973"/>
<path d="M445.9,143.3L448.1,139.8L449.5,134.9L449.5,134.5L438.2,129.3L436.0,133.5L432.5,140.0L432.2,140.6L437.3,144.4L444.4,144.6Z" fill="#fdaf79"/>
<path d="M452.9,130.4L467.2,137.6L468.0,136.0L470.7,131.2L455.1,123.4Z" fill="#fc9d69"/>
<path d="M452.9,130.4L449.5,134.5L449.5,134.9L464.3,143.2L466.0,140.0L467.2,137.6Z" fill="#fdaf79"/>
<path d="M449.5,134.9L448.1,139.8L462.1,147.4L463.3,145.0L464.3,143.2Z" fill="#fdb47e"/>
<path d="M448.1,139.8L445.9,143.3L459.9,151.3L460.8,150.0L462.1,147.4Z" fill="#fdb983"/>
<path d="M445.9,143.3L444.4,144.6L445.4,148.6L457.6,154.8L458.8,153.0L459.9,151.3Z" fill="#fdb47e"/>
<path d="M432.2,140.6L429.8,145.0L427.3,150.0L425.9,152.4L429.5,155.4L434.3,155.0L438.9,159.1L444.5,154.6L445.4,148.6L444.4,144.6L437.3,144.4Z" fill="#fdb983"/>
<path d="M424.0,155.5L422.0,160.0L420.9,163.6L426.7,163.0L431.9,167.9L435.3,166.4L439.1,160.9L438.9,159.1L434.3,155.0L429.5,155.4L425.9,152.4Z" fill="#fdbe87"/>
<path d="M445.4,148.6L444.5,154.6L454.2,160.2L455.6,157.8L457.6,154.8Z" fill="#fdb983"/>
<path d="M444.5,154.6L438.9,159.1L439.1,160.9L449.4,166.7L452.8,162.5L454.2,160.2Z" fill="#fdbe87"/>
<path d="M439.1,160.9L435.3,166.4L444.5,174.7L446.2,171.9L449.0,167.2L449.4,166.7Z" fill="#fdb47e"/>
<path d="M426.7,163.0L420.9,163.6L420.5,165.0L419.6,171.0L419.6,171.1L429.3,173.7L430.2,173.0L431.9,167.9Z" fill="#fdb983"/>
<path d="M426.3,181.1L427.3,180.7L429.3,173.7L419.6,171.1L418.8,177.5L418.7,178.4Z" fill="#fdaf79"/>
<path d="M443.6,177.2L443.4,176.6L444.5,174.7L435.3,166.4L431.9,167.9L430.2,173.0L440.2,178.4Z" fill="#fdb47e"/>
<path d="M430.2,173.0L429.3,173.7L427.3,180.7L434.7,185.7L440.2,178.4Z" fill="#fdaf79"/>
<path d="M440.2,178.4L434.7,185.7L435.2,188.8L446.0,193.3L446.2,192.5L446.2,186.9L445.3,181.2L443.6,177.2Z" fill="#f3734d"/>
<path d="M430.0,195.3L433.4,201.9L435.0,201.9L440.6,201.0L444.4,198.0L446.0,193.3L435.2,188.8L430.2,193.8Z" fill="#f77f54"/>
<path d="M426.3,181.1L418.7,178.4L418.0,185.0L417.5,187.1L421.1,188.7L422.5,188.3Z" fill="#fdb47e"/>
<path d="M430.2,193.8L435.2,188.8L434.7,185.7L427.3,180.7L426.3,181.1L422.5,188.3Z" fill="#fdb983"/>
<path d="M421.1,188.7L418.9,195.6L423.2,198.5L430.0,195.3L430.2,193.8L422.5,188.3Z" fill="#fdc28c"/>
<path d="M417.5,187.1L416.2,192.5L415.5,196.7L418.9,195.6L421.1,188.7Z" fill="#fdd4a2"/>
<path d="M415.5,196.7L415.3,198.0L414.8,201.5L422.2,203.7L423.2,198.5L418.9,195.6Z" fill="#fdc690"/>
<path d="M423.2,198.5L422.2,203.7L422.9,205.5L425.6,203.8L430.3,201.9L433.4,201.9L430.0,195.3Z" fill="#fdb47e"/>
<path d="M422.2,203.7L414.8,201.5L414.4,203.8L416.2,207.5L421.0,206.6L422.9,205.5Z" fill="#fdca94"/>
<path d="M435.0,155.2L445.4,158.0L448.0,152.8L440.8,148.9L429.3,146.0L427.3,150.0L425.8,152.6Z" fill="#fddaac"/>
<path d="M426.0,164.4L438.5,166.2L441.5,158.0L435.0,155.2L425.8,152.6L424.0,155.5L422.0,160.0L421.2,162.8Z" fill="#fee2bd"/>
<path d="M429.5,160.5L433.0,163.0L438.0,162.0L436.8,158.8L430.5,157.4Z" fill="#feedd5"/>
<path d="M440.3,149.3L447.2,150.0L461.2,118.5L454.3,118.5Z" fill="#ebebeb"/>
<path d="M464.2,154.7L462.2,156.9L458.4,161.6L454.7,166.2L451.9,171.0L450.0,175.6L451.0,180.3L451.5,186.9L451.0,192.5L449.0,198.0L446.2,200.0L443.8,203.8L437.5,206.2L430.0,210.0L426.2,215.0L422.5,221.2L417.5,227.5L415.0,233.8L413.8,237.5L417.5,240.0L421.2,243.8L417.5,247.5L415.0,251.2L410.0,256.2L405.0,261.2L401.2,265.0L398.8,272.5L398.8,275.0L397.5,282.5L398.8,290.0L402.5,296.2L407.5,301.2L412.5,305.0L417.5,308.8L422.5,312.5L426.2,316.2L428.8,318.8L426.2,320.0L418.8,321.2L417.5,323.8L421.2,327.8L427.5,329.8L433.8,329.2L440.0,327.6L446.2,326.0L452.5,325.0L460.0,324.4L467.5,324.2L474.5,323.8L476.2,321.0L476.5,318.4L480.0,318.7L486.2,318.2L487.5,316.7L492.5,315.5L496.2,313.5L498.0,317.5L500.0,322.5L505.0,321.2L508.8,320.0L512.0,318.0L511.2,312.5L510.0,307.5L508.8,302.5L507.5,298.0L502.5,298.8L499.0,298.9L498.5,296.5L500.0,294.0L502.5,292.0L501.2,289.4L499.0,286.0L498.0,283.5L501.0,281.2L503.8,277.5L506.6,273.8L509.4,270.0L512.2,267.2L516.0,267.8L517.8,265.3L520.6,262.5L526.0,262.0L530.0,260.6L532.8,261.0L537.5,259.7L541.2,257.8L544.0,256.5L546.0,253.0L546.9,247.5L549.7,244.7L550.0,247.5L552.5,251.2L556.2,255.0L561.2,258.8L566.2,262.5L571.2,266.2L575.0,270.0L578.8,273.8L582.5,277.5L586.2,281.2L590.0,275.0L593.8,269.5L597.5,263.8L599.5,261.2L602.5,260.0L603.8,267.5L606.2,268.8L607.5,263.8L612.5,257.5L617.0,250.0L617.5,240.0L618.0,230.0L617.5,220.0L616.2,207.5L618.8,197.5L620.0,188.8L630.0,184.0L634.5,181.0L636.5,170.5L634.0,167.5L629.4,162.8L623.8,157.2L618.1,151.6L612.5,146.0L606.9,140.3L602.2,136.6L599.8,135.6L598.4,140.3L597.9,146.0L597.1,151.6L595.6,146.0L592.8,140.3L589.0,134.7L586.2,130.0L585.3,126.2L583.4,122.5L580.6,121.6L579.7,124.4L576.0,127.2L572.2,129.0L570.3,125.3L566.6,122.5L562.2,121.8L557.5,119.9L552.8,119.0L549.0,121.0L546.2,123.8L543.4,126.6L539.7,123.8L536.0,121.9L532.2,123.8L528.4,127.5L527.0,133.0L528.2,137.5L531.0,140.2L534.5,141.0L538.0,143.5L539.6,148.0L538.6,153.0L534.5,156.6L529.5,156.2L526.5,153.8L525.8,150.0L524.9,145.3L522.8,141.6L520.0,139.5L518.0,138.0L516.6,135.6L517.0,132.5L515.6,133.0L512.5,135.6L508.8,137.5L506.0,142.5L504.0,143.2L502.0,142.0L501.0,139.0L500.0,136.0L499.0,133.5L497.5,130.5L495.0,128.5L492.0,127.4L488.5,127.7L486.0,129.4L483.7,132.7L481.2,136.4L479.0,138.4L475.0,139.4L472.0,140.2L469.5,142.0L466.6,146.0L464.6,150.0Z" fill="#f16d4a" stroke="#f16d4a" stroke-width="0.4"/>
<path d="M495.0,128.5L492.0,127.4L488.5,127.7L486.0,129.4L483.7,132.7L481.2,136.4L480.8,136.8L485.3,142.6L485.4,142.6L494.3,148.1L502.3,142.2L502.0,142.0L501.0,139.0L500.0,136.0L499.0,133.5L497.5,130.5Z" fill="#e9593e"/>
<path d="M480.8,136.8L479.0,138.4L475.0,139.4L472.0,140.2L469.5,142.0L467.1,145.2L479.5,149.9L485.3,142.6Z" fill="#ec6042"/>
<path d="M467.1,145.2L466.6,146.0L464.6,150.0L464.2,154.2L468.9,158.9L479.5,158.0L479.5,149.9Z" fill="#ec6042"/>
<path d="M494.3,148.1L485.4,142.6L485.3,142.6L479.5,149.9L479.5,158.0L482.4,160.7L485.2,161.0L494.4,150.4Z" fill="#e34b34"/>
<path d="M464.2,154.2L464.2,154.7L462.2,156.9L458.4,161.6L454.7,166.2L451.9,171.0L450.8,173.8L455.2,174.3L467.9,181.5L471.5,181.5L476.4,176.6L476.2,173.2L482.4,160.7L479.5,158.0L468.9,158.9Z" fill="#f57950"/>
<path d="M504.1,143.1L504.0,143.2L502.3,142.2L494.3,148.1L494.4,150.4L501.7,158.6L511.6,154.5L511.0,150.0Z" fill="#df442e"/>
<path d="M520.0,139.5L518.0,138.0L516.6,135.6L517.0,132.5L515.6,133.0L512.5,135.6L508.8,137.5L506.0,142.5L504.1,143.1L511.0,150.0L511.6,154.5L516.7,158.5L528.0,155.0L526.5,153.8L525.8,150.0L524.9,145.3L522.8,141.6L520.9,140.1Z" fill="#e65239"/>
<path d="M488.0,163.6L488.0,178.2L489.2,179.0L499.8,179.0L501.9,170.9L499.7,165.7L501.7,158.6L494.4,150.4L485.2,161.0Z" fill="#dc3c29"/>
<path d="M501.7,158.6L499.7,165.7L501.9,170.9L515.6,167.5L516.7,158.5L511.6,154.5Z" fill="#e9593e"/>
<path d="M529.5,156.2L528.0,155.0L516.7,158.5L515.6,167.5L522.5,176.5L524.2,176.6L527.2,178.3L537.3,177.1L544.0,169.2L538.0,158.0L533.2,156.5L533.2,156.5Z" fill="#ef6646"/>
<path d="M510.6,186.5L522.5,176.5L515.6,167.5L501.9,170.9L499.8,179.0L499.9,179.1Z" fill="#e65239"/>
<path d="M476.4,176.6L488.0,178.2L488.0,163.6L485.2,161.0L482.4,160.7L476.2,173.2Z" fill="#f16d4a"/>
<path d="M478.1,194.6L481.5,195.2L484.7,194.1L493.4,196.4L495.2,198.2L510.0,199.2L512.2,198.4L510.6,186.5L499.9,179.1L499.8,179.0L489.2,179.0L488.0,178.2L476.4,176.6L471.5,181.5Z" fill="#d83524"/>
<path d="M522.5,176.5L510.6,186.5L512.2,198.4L518.5,202.1L524.5,201.4L529.8,195.7L527.2,178.3L524.2,176.6Z" fill="#dc3c29"/>
<path d="M529.8,195.7L545.9,192.8L537.3,177.1L527.2,178.3Z" fill="#ec6042"/>
<path d="M545.7,136.4L543.9,126.1L543.4,126.6L539.7,123.8L536.0,121.9L532.2,123.8L528.4,127.5L527.0,133.0L528.2,137.5L531.0,140.2L531.3,140.3Z" fill="#e9593e"/>
<path d="M557.5,119.9L552.8,119.0L549.0,121.0L546.2,123.8L543.9,126.1L545.7,136.4L546.0,136.6L556.4,137.2L562.8,141.6L568.7,140.3L571.3,127.3L570.3,125.3L566.6,122.5L562.2,121.8L559.6,120.8Z" fill="#df442e"/>
<path d="M590.4,138.9L590.9,137.4L589.0,134.7L586.2,130.0L585.3,126.2L583.4,122.5L580.6,121.6L579.7,124.4L576.0,127.2L572.2,129.0L571.3,127.3L568.7,140.3L575.5,143.8Z" fill="#ec6042"/>
<path d="M556.4,137.2L546.0,136.6L545.7,136.4L531.3,140.3L534.5,141.0L538.0,143.5L539.6,148.0L538.6,153.0L534.5,156.6L533.2,156.5L538.0,158.0L546.0,152.3L558.1,154.0L562.8,141.6Z" fill="#ec6042"/>
<path d="M576.6,160.7L575.5,143.8L568.7,140.3L562.8,141.6L558.1,154.0L561.8,162.3Z" fill="#f16d4a"/>
<path d="M596.5,151.0L590.4,138.9L575.5,143.8L576.6,160.7L577.7,161.5L596.3,157.1Z" fill="#ef6646"/>
<path d="M556.6,171.7L561.8,162.3L558.1,154.0L546.0,152.3L538.0,158.0L544.0,169.2Z" fill="#df442e"/>
<path d="M556.6,171.7L560.2,181.5L578.3,181.5L580.6,178.8L577.7,161.5L576.6,160.7L561.8,162.3Z" fill="#f16d4a"/>
<path d="M577.7,161.5L580.6,178.8L601.3,176.8L600.1,162.1L596.3,157.1Z" fill="#f16d4a"/>
<path d="M606.9,140.3L602.2,136.6L599.8,135.6L598.4,140.3L597.9,146.0L597.2,150.7L611.0,144.5ZM596.5,151.0L596.9,150.9L595.6,146.0L592.8,140.3L590.9,137.4L590.4,138.9Z" fill="#f98b5b"/>
<path d="M617.0,150.5L612.5,146.0L611.0,144.5L597.2,150.7L597.1,151.6L596.9,150.9L596.5,151.0L596.3,157.1L600.1,162.1L612.6,158.6Z" fill="#f3734d"/>
<path d="M623.8,157.2L618.1,151.6L617.0,150.5L612.6,158.6L600.1,162.1L601.3,176.8L601.5,177.0L617.4,180.7L621.0,170.4L634.5,168.2L634.0,167.5L629.4,162.8L626.4,159.8Z" fill="#f16d4a"/>
<path d="M617.4,180.7L623.1,187.3L630.0,184.0L634.5,181.0L636.5,170.5L634.5,168.2L621.0,170.4Z" fill="#f16d4a"/>
<path d="M545.9,192.8L546.6,193.1L555.5,190.9L560.2,181.5L556.6,171.7L544.0,169.2L537.3,177.1Z" fill="#ef6646"/>
<path d="M560.2,181.5L555.5,190.9L566.0,205.4L574.7,204.7L581.3,196.7L578.3,181.5Z" fill="#ec6042"/>
<path d="M580.6,178.8L578.3,181.5L581.3,196.7L596.5,198.3L596.5,198.3L601.5,177.0L601.3,176.8Z" fill="#ef6646"/>
<path d="M596.5,198.3L618.2,199.8L618.8,197.5L620.0,188.8L623.1,187.3L617.4,180.7L601.5,177.0Z" fill="#e65239"/>
<path d="M481.5,195.2L485.1,211.1L488.2,213.5L489.7,213.4L495.7,221.7L507.1,222.6L508.0,221.9L515.3,220.4L518.5,202.1L512.2,198.4L510.0,199.2L495.2,198.2L493.4,196.4L484.7,194.1Z" fill="#cf271a"/>
<path d="M532.2,209.7L524.5,201.4L518.5,202.1L515.3,220.4L518.1,222.7L532.9,220.4Z" fill="#af0705"/>
<path d="M544.5,207.5L546.6,193.1L545.9,192.8L529.8,195.7L524.5,201.4L532.2,209.7Z" fill="#df442e"/>
<path d="M562.3,211.0L566.0,205.4L555.5,190.9L546.6,193.1L544.5,207.5L547.1,211.0Z" fill="#e65239"/>
<path d="M544.5,207.5L532.2,209.7L532.9,220.4L533.9,221.4L544.2,222.7L546.4,225.0L558.3,225.0L561.9,219.8L562.3,211.0L547.1,211.0Z" fill="#d32e1f"/>
<path d="M582.1,215.6L574.7,204.7L566.0,205.4L562.3,211.0L561.9,219.8L558.3,225.0L561.7,236.0L581.1,233.3L582.2,229.5L581.5,227.6Z" fill="#e65239"/>
<path d="M581.3,196.7L574.7,204.7L582.1,215.6L596.8,210.7L597.2,210.1L596.5,198.3Z" fill="#df442e"/>
<path d="M597.2,210.1L616.9,213.7L616.2,207.5L618.2,199.8L596.5,198.3L596.5,198.3Z" fill="#e34b34"/>
<path d="M616.9,213.7L597.2,210.1L596.8,210.7L582.1,215.6L581.5,227.6L582.2,229.5L599.4,226.5L600.4,226.9L604.1,233.5L617.8,233.5L618.0,230.0L617.5,220.0L617.0,215.3Z" fill="#e34b34"/>
<path d="M532.9,220.4L518.1,222.7L520.6,234.9L526.4,238.2L531.1,236.6L543.1,240.4L546.4,225.0L544.2,222.7L533.9,221.4Z" fill="#cf271a"/>
<path d="M543.2,240.5L549.9,243.3L559.9,239.8L561.7,236.0L558.3,225.0L546.4,225.0L543.1,240.4Z" fill="#d83524"/>
<path d="M587.7,245.3L582.7,240.0L581.1,233.3L561.7,236.0L559.9,239.8L549.9,243.3L550.6,248.5L552.5,251.2L556.2,255.0L559.0,257.0L561.2,258.8L566.2,262.5L568.0,263.8L571.2,266.2L575.0,270.0L578.8,273.8L579.3,274.3L582.5,277.5L586.2,281.2L590.0,275.0L593.8,269.5L595.8,266.3L595.1,265.3L594.8,260.1L588.1,253.9Z" fill="#e9593e"/>
<path d="M604.1,233.5L600.4,226.9L599.4,226.5L582.2,229.5L581.1,233.3L582.7,240.0L587.7,245.3L588.1,253.9L594.8,260.1L602.3,256.4L605.7,246.9L601.9,242.4Z" fill="#e34b34"/>
<path d="M617.5,240.0L617.8,233.5L604.1,233.5L601.9,242.4L605.7,246.9L602.3,256.4L594.8,260.1L595.1,265.3L595.8,266.3L597.5,263.8L599.5,261.2L602.5,260.0L603.8,267.5L606.2,268.8L607.5,263.8L609.7,261.0L612.5,257.5L617.0,250.0L617.1,248.4Z" fill="#df442e"/>
<path d="M526.4,238.2L524.5,252.4L525.5,254.7L525.2,262.1L526.0,262.0L530.0,260.6L532.8,261.0L537.5,259.7L541.2,257.8L542.2,257.4L544.0,256.5L546.0,253.0L546.9,247.5L549.7,244.7L550.0,247.5L550.6,248.5L549.9,243.3L543.2,240.5L543.1,240.4L531.1,236.6Z" fill="#a80403"/>
<path d="M450.8,173.8L450.0,175.6L451.0,180.3L451.5,186.9L451.0,192.5L450.9,192.9L462.3,191.7L467.9,181.5L455.2,174.3Z" fill="#f16d4a"/>
<path d="M472.4,199.5L478.1,194.6L471.5,181.5L467.9,181.5L462.3,191.7L450.9,192.9L449.1,197.6L455.3,205.5L455.5,205.5L466.1,197.9Z" fill="#f16d4a"/>
<path d="M464.9,212.3L470.3,211.3L471.6,209.9L472.4,199.5L466.1,197.9L455.5,205.5Z" fill="#f3734d"/>
<path d="M481.5,195.2L478.1,194.6L472.4,199.5L471.6,209.9L485.1,211.1Z" fill="#dc3c29"/>
<path d="M455.3,205.5L449.1,197.6L449.0,198.0L446.2,200.0L443.8,203.8L437.5,206.2L436.3,206.8L439.7,214.0L449.9,214.0Z" fill="#f88557"/>
<path d="M439.7,214.0L436.3,206.8L430.0,210.0L426.2,215.0L422.5,221.2L422.2,221.6L428.1,223.4L437.4,220.7Z" fill="#fdaf79"/>
<path d="M447.6,232.7L453.4,221.8L449.9,214.0L439.7,214.0L437.4,220.7L447.3,232.8Z" fill="#f88557"/>
<path d="M453.4,221.8L461.1,220.5L464.9,212.3L455.5,205.5L455.3,205.5L449.9,214.0Z" fill="#f88557"/>
<path d="M467.6,228.8L461.1,220.5L453.4,221.8L447.6,232.7L463.4,233.9Z" fill="#f88557"/>
<path d="M475.1,223.3L470.3,211.3L464.9,212.3L461.1,220.5L467.6,228.8L472.8,227.9Z" fill="#ec6042"/>
<path d="M488.2,213.5L485.1,211.1L471.6,209.9L470.3,211.3L475.1,223.3L483.3,220.3Z" fill="#e34b34"/>
<path d="M495.7,221.7L489.7,213.4L488.2,213.5L483.3,220.3L475.1,223.3L472.8,227.9L480.4,236.3L488.3,232.0L491.6,232.0Z" fill="#e9593e"/>
<path d="M437.4,220.7L428.1,223.4L432.5,236.5L443.0,241.8L447.3,232.8Z" fill="#fdaf79"/>
<path d="M417.5,227.5L415.0,233.8L414.2,236.0L413.8,237.5L417.5,240.0L421.2,243.8L417.5,247.5L415.0,251.2L414.4,251.8L420.0,255.0L428.7,254.5L429.2,254.6L443.3,244.1L443.0,241.8L432.5,236.5L428.1,223.4L422.2,221.6Z" fill="#f77f54"/>
<path d="M412.0,271.0L415.4,272.3L423.1,270.9L429.7,264.3L430.5,260.9L429.2,254.6L428.7,254.5L420.0,255.0L414.4,251.8L410.0,256.2L405.0,261.2L401.3,264.9L411.8,271.0Z" fill="#e65239"/>
<path d="M443.0,241.8L443.3,244.1L447.5,248.1L461.7,250.3L466.2,245.8L463.4,233.9L447.6,232.7L447.3,232.8Z" fill="#f16d4a"/>
<path d="M472.8,227.9L467.6,228.8L463.4,233.9L466.2,245.8L478.9,245.1L480.4,236.3Z" fill="#ec6042"/>
<path d="M478.9,245.1L483.2,250.3L496.5,249.7L496.5,236.1L491.6,232.0L488.3,232.0L480.4,236.3Z" fill="#e65239"/>
<path d="M495.7,221.7L491.6,232.0L496.5,236.1L496.5,249.7L498.0,250.7L505.5,249.5L509.7,246.5L511.9,238.9L504.8,232.6L507.1,222.6Z" fill="#df442e"/>
<path d="M518.1,222.7L515.3,220.4L508.0,221.9L507.1,222.6L504.8,232.6L511.9,238.9L509.7,246.5L505.5,249.5L517.3,266.0L517.8,265.3L520.6,262.5L525.2,262.1L525.5,254.7L524.5,252.4L526.4,238.2L520.6,234.9Z" fill="#df442e"/>
<path d="M498.7,262.2L508.9,270.7L509.4,270.0L512.2,267.2L516.0,267.8L517.3,266.0L505.5,249.5L498.0,250.7Z" fill="#df442e"/>
<path d="M447.5,265.1L447.5,248.1L443.3,244.1L429.2,254.6L430.5,260.9Z" fill="#f98b5b"/>
<path d="M448.3,266.8L447.5,265.1L430.5,260.9L429.7,264.3L423.1,270.9L415.4,272.3L419.7,284.2L423.3,285.8L428.5,277.2L437.2,279.1L439.4,277.5L439.8,276.1Z" fill="#fdaf79"/>
<path d="M455.2,269.1L465.4,263.0L461.7,250.3L447.5,248.1L447.5,265.1L448.3,266.8Z" fill="#f57950"/>
<path d="M466.2,245.8L461.7,250.3L465.4,263.0L468.8,264.3L480.0,260.1L483.2,250.3L478.9,245.1Z" fill="#e9593e"/>
<path d="M483.2,250.3L480.0,260.1L485.7,267.1L481.3,275.8L486.1,284.7L499.2,288.1L499.6,288.3L500.7,288.6L499.0,286.0L498.0,283.5L501.0,281.2L503.8,277.5L506.6,273.8L508.9,270.7L498.7,262.2L498.0,250.7L496.5,249.7Z" fill="#e65239"/>
<path d="M425.0,287.6L434.6,285.5L437.2,279.1L428.5,277.2L423.3,285.8Z" fill="#fca36e"/>
<path d="M411.8,271.0L401.3,264.9L401.2,265.0L398.8,272.5L398.8,275.0L397.5,282.5L398.0,285.4L398.8,290.0L402.5,296.2L403.3,297.1L407.5,301.2L412.5,305.0L413.5,305.8L416.7,297.7L411.8,292.8L412.0,290.0L406.2,283.3Z" fill="#ec6042"/>
<path d="M415.4,272.3L412.0,271.0L411.8,271.0L406.2,283.3L412.0,290.0L411.8,292.8L416.7,297.7L425.0,297.1L425.0,287.6L423.3,285.8L419.7,284.2Z" fill="#dc3c29"/>
<path d="M449.8,292.3L452.3,287.8L439.4,277.5L437.2,279.1L434.6,285.5L425.0,287.6L425.0,297.1L428.2,299.8L429.1,301.9L435.9,306.8L442.5,293.4Z" fill="#ec6042"/>
<path d="M439.8,276.1L439.4,277.5L452.3,287.8L458.4,284.8L455.2,269.1L448.3,266.8Z" fill="#f16d4a"/>
<path d="M465.7,286.4L471.9,275.0L468.8,264.3L465.4,263.0L455.2,269.1L458.4,284.8Z" fill="#f16d4a"/>
<path d="M480.0,260.1L468.8,264.3L471.9,275.0L465.7,286.4L469.6,290.8L471.3,291.5L479.0,304.3L479.0,310.0L484.3,318.4L486.2,318.2L487.5,316.7L489.9,316.1L492.5,315.5L496.2,313.5L498.0,317.5L500.0,322.5L505.0,321.2L508.8,320.0L512.0,318.0L511.3,313.0L511.2,312.5L510.0,307.5L508.8,302.5L507.5,298.0L502.5,298.8L499.4,298.9L499.0,298.9L498.5,296.5L500.0,294.0L501.6,292.8L502.5,292.0L502.1,291.2L501.2,289.4L500.7,288.6L499.6,288.3L499.2,288.1L486.1,284.7L481.3,275.8L485.7,267.1Z" fill="#e9593e"/>
<path d="M416.7,297.7L413.5,305.8L417.5,308.8L420.2,310.8L422.5,312.5L426.2,316.2L428.3,318.3L430.3,318.6L435.8,316.0L436.5,315.2L436.5,307.7L435.9,306.8L429.1,301.9L428.2,299.8L425.0,297.1Z" fill="#e9593e"/>
<path d="M449.8,292.3L442.5,293.4L435.9,306.8L436.5,307.7L436.5,315.2L447.4,318.5L456.1,307.3L451.9,303.5Z" fill="#df442e"/>
<path d="M449.8,292.3L451.9,303.5L456.1,307.3L458.3,307.8L460.9,310.0L479.0,310.0L479.0,304.3L471.3,291.5L469.6,290.8L465.7,286.4L458.4,284.8L452.3,287.8Z" fill="#e34b34"/>
<path d="M447.4,318.5L450.5,325.3L452.5,325.0L460.0,324.4L462.0,324.3L467.5,324.2L474.5,323.8L476.2,321.0L476.5,318.4L480.0,318.7L484.3,318.4L479.0,310.0L460.9,310.0L458.3,307.8L456.1,307.3Z" fill="#e9593e"/>
<path d="M436.5,315.2L435.8,316.0L430.3,318.6L428.3,318.3L428.8,318.8L426.2,320.0L418.8,321.2L417.5,323.8L421.2,327.8L427.5,329.8L429.0,329.7L433.8,329.2L438.7,327.9L440.0,327.6L446.2,326.0L450.5,325.3L447.4,318.5Z" fill="#c51a11"/>
<path d="M408.0,269.1L411.2,276.5L418.7,273.4L427.2,261.7L420.8,256.4L411.2,255.3L408.9,257.3L405.0,261.2L403.1,263.2Z" fill="#e44e36"/>
<path d="M421.8,279.7L425.0,284.0L429.3,276.5L435.6,269.1L430.3,264.9L418.7,274.4Z" fill="#fca973"/>
<path d="M408.0,288.2L410.2,292.5L415.5,298.8L419.7,295.6L426.1,285.0L421.8,279.7L411.2,276.5Z" fill="#dc3c29"/>
<path d="M425.0,284.0L427.2,286.1L435.6,295.6L444.1,292.5L441.0,273.4L429.3,276.5Z" fill="#f77f54"/>
<path d="M415.5,299.3L418.8,309.7L422.5,312.5L426.2,316.2L428.5,318.5L429.3,319.0L437.8,317.9L436.7,307.3L435.6,295.6L427.2,286.1L421.8,295.6Z" fill="#ec6042"/>
<path d="M436.7,307.3L437.8,317.9L447.3,320.1L450.5,313.7L453.7,309.4L451.6,293.5L435.6,295.6Z" fill="#dc3c29"/>
<path d="M444.1,292.5L452.6,293.5L462.2,289.3L457.9,277.6L454.8,269.1L442.0,272.3Z" fill="#ec6042"/>
<path d="M457.9,277.6L463.2,289.3L471.7,284.0L472.8,277.6L468.6,265.9L455.8,269.1Z" fill="#f16d4a"/>
<path d="M453.7,309.9L473.9,307.7L471.7,301.0L463.2,290.3L452.6,293.5Z" fill="#df442e"/>
<path d="M447.3,320.1L449.3,325.5L452.5,325.0L460.0,324.4L467.5,324.2L473.9,323.8L475.4,315.8L473.9,308.2L453.7,310.3L450.5,313.7Z" fill="#e9593e"/>
<path d="M447.3,320.7L437.8,320.7L426.6,319.8L426.2,320.0L421.1,320.9L418.4,322.0L417.5,323.8L421.2,327.8L427.5,329.8L433.8,329.2L440.0,327.6L446.2,326.0L448.7,325.6Z" fill="#c91f14"/>
<path d="M477.0,189.0L482.0,198.6L496.0,198.0L505.0,191.0L505.0,185.0L496.0,179.0L482.0,181.0L471.0,178.0Z" fill="#db3b28"/>
<path d="M496.0,198.0L514.0,203.0L524.0,199.0L522.0,195.0L515.0,184.0L505.0,191.0Z" fill="#dc3c29"/>
<path d="M522.0,195.0L526.0,191.0L529.0,185.0L528.0,179.0L520.0,180.0L515.0,184.0Z" fill="#df442e"/>
<path d="M486.0,207.0L492.0,215.0L500.0,225.0L518.0,219.0L518.0,208.0L526.0,207.0L524.0,199.0L514.0,203.0L496.0,198.0L482.0,198.6Z" fill="#cb2216"/>
<path d="M474.0,213.0L482.0,219.0L492.0,215.0L486.0,207.0L482.0,198.6L474.0,199.0Z" fill="#df442e"/>
<path d="M518.0,219.0L521.0,224.4L534.0,220.0L530.0,207.6L518.0,208.0Z" fill="#b10805"/>
<path d="M529.0,185.0L526.0,191.0L528.0,203.0L541.0,198.0L550.0,197.0L559.0,191.0L558.0,173.0L546.0,171.4L536.0,175.0L529.0,179.0Z" fill="#ee6545"/>
<path d="M543.0,208.0L551.0,207.0L550.0,197.0L541.0,198.0Z" fill="#dc3c29"/>
<path d="M526.0,207.0L530.0,207.6L531.0,219.4L552.0,213.4L551.0,207.0L543.0,208.0L541.0,198.6L528.0,203.0Z" fill="#d32e1f"/>
<path d="M534.0,220.6L541.0,227.4L554.0,223.0L552.0,213.8L531.0,219.8Z" fill="#d63222"/>
<path d="M526.0,238.2L542.0,235.0L541.0,227.8L534.0,220.8L521.0,224.8Z" fill="#d12a1c"/>
<path d="M542.0,235.0L550.0,244.2L564.0,239.0L562.0,225.0L554.0,223.0L541.0,227.8Z" fill="#d83524"/>
<path d="M505.0,233.0L510.0,245.4L528.0,245.4L526.0,238.2L521.0,224.4L518.0,219.0L500.0,225.0Z" fill="#df442e"/>
<path d="M442.5,241.2L442.5,248.8L446.2,253.8L451.2,250.0L452.5,241.2L446.2,235.0Z" fill="#ebebeb"/>
<path d="M617.0,172.5L615.5,180.0L615.3,187.4L620.0,188.4L625.5,183.8L627.0,176.2L625.5,168.8L619.2,163.0Z" fill="#d22b1d"/>
<path d="M506.4,261.8L510.3,267.0L513.6,265.6L513.1,262.5L507.5,252.8L502.8,255.0Z" fill="#a70403"/>
<path d="M468.8,345.0L467.5,353.8L473.8,352.5L482.5,348.8L490.0,345.0L497.5,341.2L505.0,338.8L512.5,335.5L520.0,332.5L527.5,330.0L535.0,326.2L542.5,323.8L550.0,321.2L557.5,318.8L565.0,316.2L572.5,315.0L580.0,313.0L587.5,311.2L592.5,310.0L597.5,308.8L602.5,307.5L607.5,306.2L609.5,302.5L607.5,297.5L605.0,293.8L601.2,292.5L596.2,293.8L591.2,291.2L586.2,291.2L583.8,295.0L580.0,293.8L577.5,297.5L575.0,301.2L571.2,302.5L566.2,303.8L563.8,307.5L560.0,310.0L553.8,312.5L547.5,315.0L540.0,317.5L532.5,320.0L525.0,322.5L517.5,326.2L510.0,328.8L502.5,331.2L495.0,333.8L491.2,336.2L487.5,335.0L482.5,336.2L477.5,338.8L471.2,342.5Z" fill="#cf271a" stroke="#cf271a" stroke-width="0.4"/>
<path d="M510.1,328.7L510.0,328.8L502.5,331.2L495.7,333.5L495.0,333.8L491.2,336.2L487.5,335.0L482.5,336.2L479.4,337.8L477.5,338.8L471.2,342.5L468.8,345.0L467.5,353.8L473.8,352.5L482.5,348.8L484.1,347.9L490.0,345.0L497.5,341.2L498.6,340.9L505.0,338.8L512.5,335.5L512.6,335.4L520.0,332.5L526.1,330.5L523.5,323.3L517.5,326.2Z" fill="#ca2015"/>
<path d="M542.5,323.8L550.0,321.2L552.6,320.4L550.0,314.0L547.5,315.0L540.0,317.5L536.9,318.5L532.5,320.0L525.0,322.5L523.5,323.3L526.1,330.5L527.5,330.0L535.0,326.2L539.7,324.7Z" fill="#c51a11"/>
<path d="M561.9,308.8L560.0,310.0L553.8,312.5L550.0,314.0L552.6,320.4L557.5,318.8L565.0,316.3Z" fill="#cf271a"/>
<path d="M580.0,313.0L587.5,311.2L588.9,310.9L583.9,294.7L583.8,295.0L580.0,293.8L577.5,297.5L575.0,301.2L572.7,302.0L571.2,302.5L566.2,303.8L563.8,307.5L561.9,308.8L565.0,316.3L565.0,316.2L572.5,315.0L577.0,313.8Z" fill="#df442e"/>
<path d="M602.5,307.5L607.5,306.2L609.5,302.5L607.5,297.5L605.0,293.8L601.2,292.5L597.3,293.5L596.2,293.8L591.2,291.2L586.2,291.2L583.9,294.7L588.9,310.9L592.5,310.0L597.5,308.8L598.8,308.4Z" fill="#d32e1f"/>
<path d="M551.2,290.0L551.2,295.0L550.0,300.0L547.5,303.8L543.8,304.5L542.5,306.2L546.2,307.0L551.2,305.0L553.8,300.0L555.0,293.8L553.8,289.5Z" fill="#c51a11" stroke="#c51a11" stroke-width="0.4"/>
<path d="M546.0,267.2L545.0,273.8L544.0,281.2L542.2,286.9L545.0,288.8L550.6,288.8L553.4,285.0L552.5,279.4L551.6,273.8L549.7,268.0Z" fill="#f0f0f0" stroke="#f0f0f0" stroke-width="0.4"/>
<polygon points="480.5,303.4 488.0,305.2 491.5,309.2 494.8,313.0 492.5,315.6 487.5,316.8 485.0,312.5 482.0,308.0" fill="#fff" stroke="none"/>
<polyline points="486.4,288.5 484.4,293.5 485.0,297.3 488.0,299.8 492.5,299.5 497.8,297.6" fill="none" stroke="#fff" stroke-opacity="1" stroke-width="1.3" stroke-linecap="round"/>
<polyline points="473.5,299.2 477.5,305.0 481.2,310.0 485.0,314.3 486.5,316.8" fill="none" stroke="#fff" stroke-opacity="1" stroke-width="0.9" stroke-linecap="round"/>
<polyline points="459.0,319.6 468.0,319.8 476.0,319.6" fill="none" stroke="#fff" stroke-opacity="1" stroke-width="1.2" stroke-linecap="round"/>
<polyline points="427.5,319.3 432.0,320.6 437.0,320.3" fill="none" stroke="#fff" stroke-opacity="1" stroke-width="1.0" stroke-linecap="round"/>
<polyline points="477.0,116.5 476.9,121.0 475.2,126.0 472.2,131.5 470.0,136.0 468.6,139.5" fill="none" stroke="#fff" stroke-opacity="1" stroke-width="1.3"/>
<polyline points="479.3,46.3 480.5,48.5 483.5,50.3 487.5,51.2 490.0,52.5 490.6,55.0 488.0,58.8 485.0,62.5 482.0,65.6 479.4,69.4 476.9,73.8 475.0,78.8 473.8,83.8 473.1,90.0 473.3,100.0 473.7,108.8 475.0,113.5 477.0,116.5 478.1,117.2 482.5,120.4 486.9,122.0" fill="none" stroke="#fff" stroke-opacity="1" stroke-width="1.3"/>
</g>
</svg>
</body></html>
